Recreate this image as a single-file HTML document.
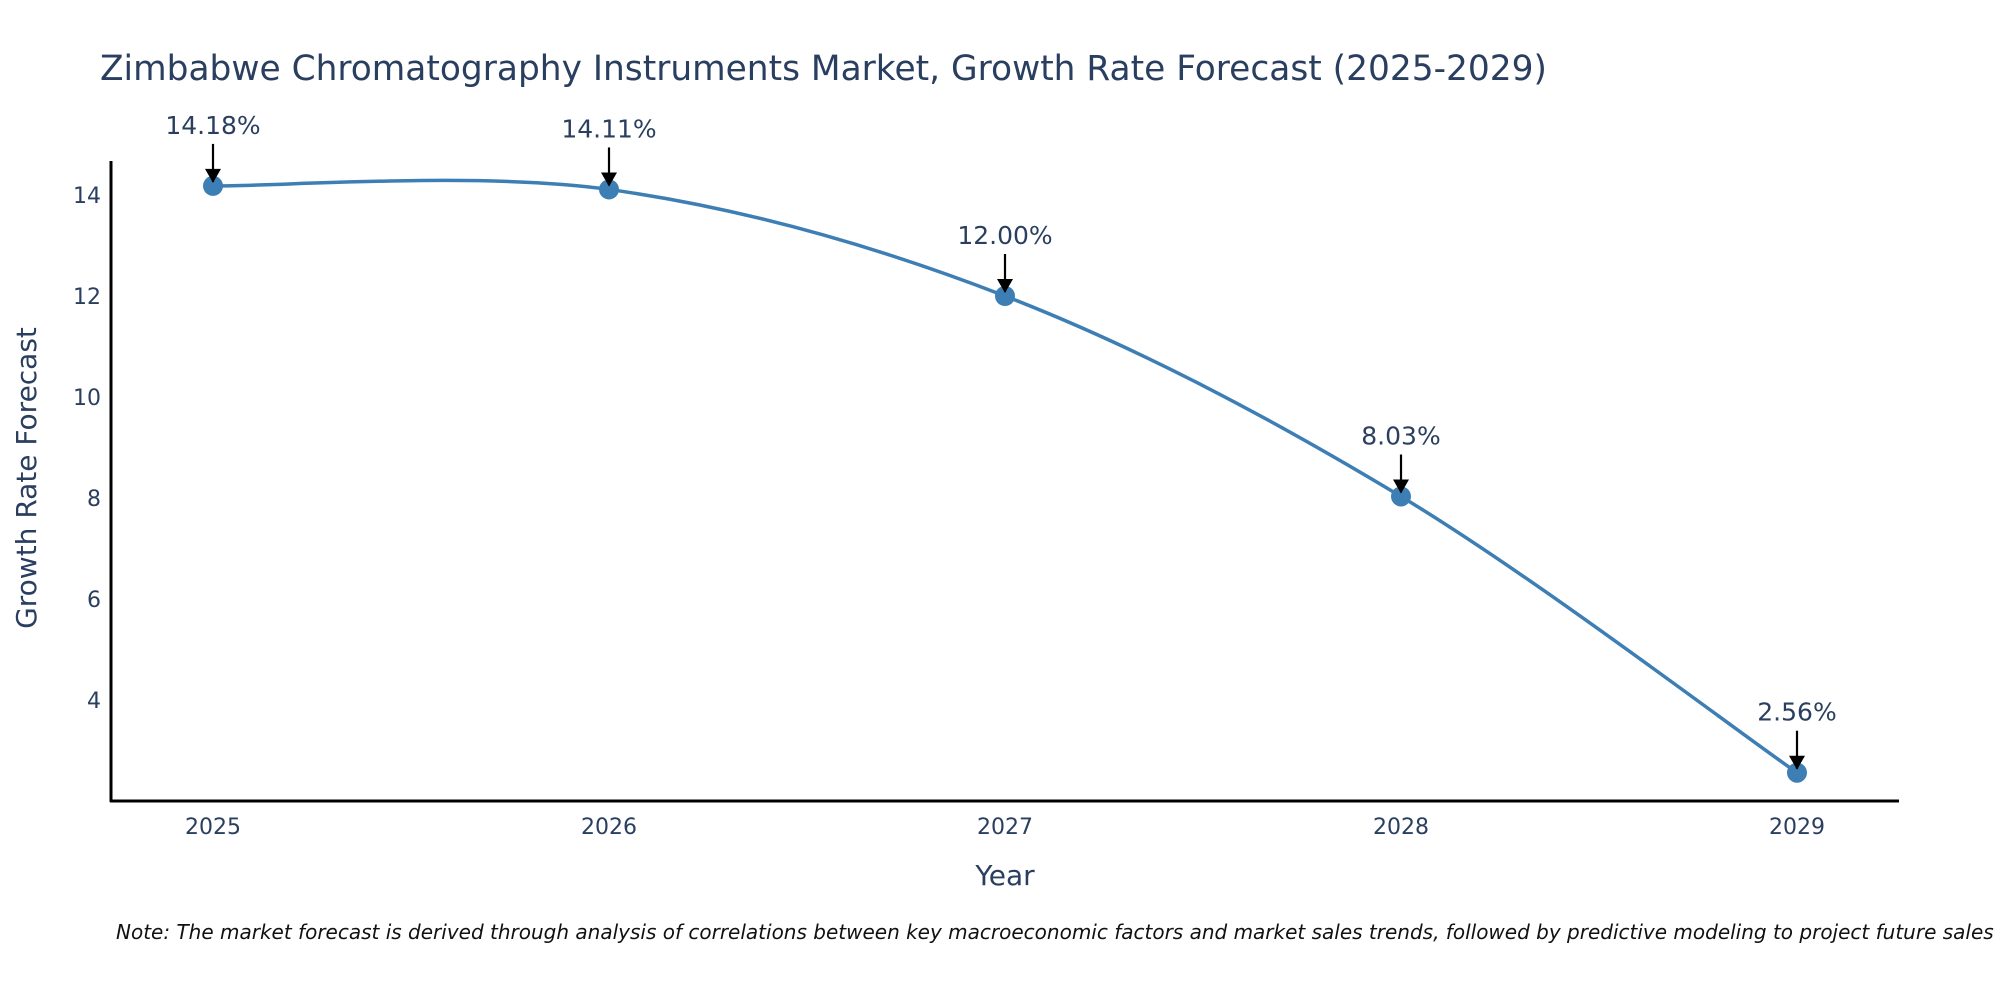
<!DOCTYPE html>
<html><head><meta charset="utf-8"><style>
body{margin:0;background:#fff;}
svg text{font-family:"DejaVu Sans","Liberation Sans",sans-serif;fill:#2a3f5f;}
</style></head><body>
<svg width="2000" height="1000" xmlns="http://www.w3.org/2000/svg">
<text x="100" y="80" font-size="34.4">Zimbabwe Chromatography Instruments Market, Growth Rate Forecast (2025-2029)</text>
<g id="axes"></g>
<g id="series"></g>
<text transform="translate(36,478) rotate(-90)" text-anchor="middle" font-size="28">Growth Rate Forecast</text>
<text x="1005" y="885" text-anchor="middle" font-size="28">Year</text>
<text x="116" y="939" font-size="20" font-style="italic" style="fill:#111">Note: The market forecast is derived through analysis of correlations between key macroeconomic factors and market sales trends, followed by predictive modeling to project future sales</text>
</svg>
<script>
const years=[2025,2026,2027,2028,2029];
const growth=[14.18,14.11,12.00,8.03,2.56];
const yTicks=[4,6,8,10,12,14];
const NS="http://www.w3.org/2000/svg";
const X=i=>213+i*396;
const Y=v=>700-(v-4)*50.5;
function mk(t,a,p){const e=document.createElementNS(NS,t);for(const k in a)e.setAttribute(k,a[k]);p.appendChild(e);return e;}
const ax=document.getElementById('axes');
const yl=mk('line',{x1:111,y1:161,x2:111,y2:802,stroke:'#000','stroke-width':3},ax);


const xl=mk('line',{x1:110,y1:801,x2:1899,y2:801,stroke:'#000','stroke-width':3},ax);


yTicks.forEach(v=>{const t=mk('text',{x:101,y:Y(v)+8,'text-anchor':'end','font-size':22},ax);t.textContent=v;

});
years.forEach((yr,i)=>{const t=mk('text',{x:X(i),y:834,'text-anchor':'middle','font-size':22},ax);t.textContent=yr;

});
const s=document.getElementById('series');
const P=growth.map((v,i)=>[X(i),Y(v)]);
let d=`M${P[0][0]},${P[0][1]}`;
for(let i=0;i<P.length-1;i++){
 const p0=P[Math.max(i-1,0)],p1=P[i],p2=P[i+1],p3=P[Math.min(i+2,P.length-1)];
 const k=1/6;
 d+=` C${p1[0]+(p2[0]-p0[0])*k},${p1[1]+(p2[1]-p0[1])*k} ${p2[0]-(p3[0]-p1[0])*k},${p2[1]-(p3[1]-p1[1])*k} ${p2[0]},${p2[1]}`;
}
const line=mk('path',{d:d,fill:'none',stroke:'#3d7fb4','stroke-width':3.5},s);


P.forEach((p,i)=>{
 const c=mk('circle',{cx:p[0],cy:p[1],r:10,fill:'#3d7fb4'},s);
 
 
 const a=mk('line',{x1:p[0],y1:p[1]-42,x2:p[0],y2:p[1]-4,stroke:'#000','stroke-width':2.2},s);
 
 
 const h=mk('path',{d:`M${p[0]-8},${p[1]-17}L${p[0]+8},${p[1]-17}L${p[0]},${p[1]-3}Z`,fill:'#000'},s);
 
 
 const t=mk('text',{x:p[0],y:p[1]-52,'text-anchor':'middle','font-size':25},s);
 t.textContent=growth[i].toFixed(2)+'%';
 
 
});
</script>
</body></html>
